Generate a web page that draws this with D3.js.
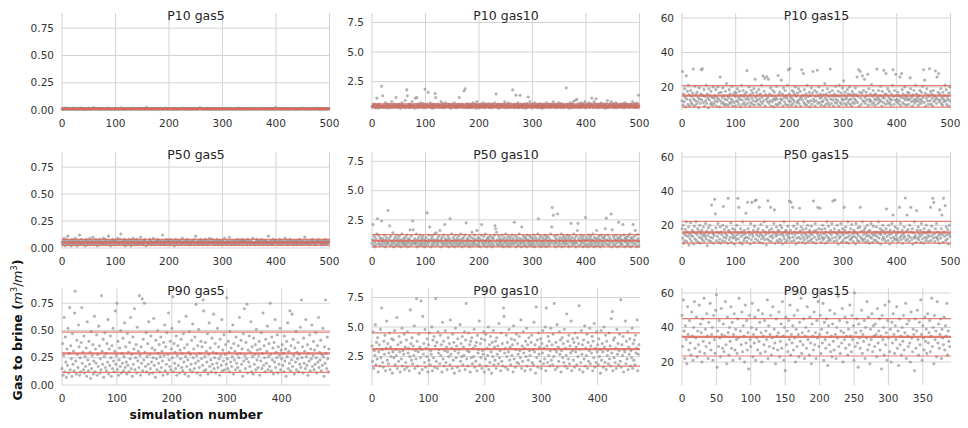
<!DOCTYPE html>
<html>
<head>
<meta charset="utf-8">
<script src="https://cdn.jsdelivr.net/npm/d3@7"></script>
<style>
  body { margin: 0; background: #fff; }
  svg { display: block; }
</style>
</head>
<body>
<script>
// Gas-to-brine ratio per simulation run, one array per panel (P-case x gas fraction)
const p10gas5 = [
.01,.008,.012,.006,.015,.01,.009,.011,.02,.007,.01,.013,.008,.016,.01,.012,.006,.009,.011,.014,
.009,.012,.018,.01,.007,.011,.013,.009,.006,.01,.015,.012,.008,.01,.011,.019,.009,.007,.012,.01,
.013,.008,.01,.011,.006,.009,.014,.012,.01,.008,.017,.011,.009,.012,.007,.01,.013,.009,.011,.022,
.01,.007,.012,.009,.014,.011,.008,.01,.016,.012,.006,.01,.013,.009,.011,.008,.015,.01,.012,.009,
.011,.014,.009,.007,.01,.012,.018,.01,.008,.013,.011,.009,.006,.012,.01,.014,.008,.011,.009,.013,
.008,.01,.012,.016,.009,.011,.007,.013,.01,.009,.012,.02,.01,.008,.011,.014,.009,.012,.007,.01,
.012,.009,.011,.013,.008,.01,.015,.012,.009,.006,.011,.01,.013,.017,.008,.012,.01,.009,.014,.011,
.009,.013,.01,.007,.012,.011,.009,.016,.01,.012,.008,.011,.014,.009,.01,.013,.007,.011,.024,.01,
.011,.008,.012,.01,.014,.009,.011,.013,.007,.01,.012,.009,.015,.011,.008,.01,.013,.012,.009,.011,
.013,.01,.008,.012,.011,.016,.009,.01,.012,.007,.014,.011,.009,.01,.018,.012,.008,.011,.01,.013,
.01,.012,.009,.014,.008,.011,.01,.013,.009,.012,.006,.01,.015,.011,.009,.012,.01,.008,.013,.011,
.008,.011,.013,.01,.012,.009,.017,.011,.008,.01,.012,.014,.009,.011,.01,.007,.012,.013,.009,.01,
.012,.009,.011,.008,.01,.013,.011,.015,.01,.009,.012,.008,.011,.014,.01,.012,.009,.011,.021,.01,
.011,.013,.009,.012,.01,.008,.014,.011,.009,.012,.01,.016,.008,.011,.013,.009,.01,.012,.011,.007,
.009,.01,.012,.011,.015,.009,.01,.013,.008,.011,.012,.01,.009,.014,.011,.008,.012,.01,.013,.009,
.012,.011,.008,.01,.013,.009,.012,.011,.016,.01,.008,.012,.014,.009,.011,.01,.013,.008,.012,.011,
.01,.014,.009,.011,.012,.008,.01,.013,.011,.009,.017,.012,.01,.008,.011,.013,.009,.012,.01,.011,
.013,.009,.012,.01,.008,.011,.014,.01,.012,.009,.011,.013,.008,.01,.012,.015,.011,.009,.01,.012,
.008,.012,.011,.013,.009,.01,.012,.008,.014,.011,.01,.009,.012,.016,.01,.011,.013,.009,.012,.01,
.011,.01,.013,.009,.012,.011,.008,.01,.013,.012,.009,.011,.01,.014,.008,.012,.011,.01,.009,.023,
.01,.012,.009,.011,.014,.01,.012,.009,.011,.008,.013,.01,.012,.011,.009,.015,.01,.012,.008,.011,
.012,.009,.011,.01,.013,.008,.011,.012,.01,.014,.009,.011,.013,.01,.012,.009,.011,.008,.013,.01,
.009,.011,.012,.008,.01,.013,.011,.009,.012,.016,.01,.011,.009,.012,.01,.013,.008,.011,.012,.01,
.011,.013,.01,.012,.009,.011,.008,.014,.01,.012,.011,.009,.013,.01,.011,.012,.009,.017,.01,.012,
.01,.009,.012,.011,.013,.01,.008,.012,.011,.009,.014,.01,.012,.011,.008,.013,.01,.012,.009,.011
];
const p50gas5 = [
.05,.03,.07,.04,.09,.06,.02,.05,.08,.04,.06,.11,.03,.05,.07,.04,.06,.02,.05,.08,
.04,.06,.03,.07,.05,.09,.04,.06,.02,.05,.07,.03,.06,.12,.04,.05,.08,.03,.06,.05,
.07,.04,.05,.02,.06,.08,.05,.03,.07,.04,.06,.05,.09,.03,.05,.07,.04,.06,.1,.05,
.03,.06,.05,.08,.04,.07,.02,.05,.06,.04,.08,.05,.03,.06,.07,.05,.04,.09,.03,.06,
.05,.08,.04,.06,.03,.05,.07,.11,.04,.06,.05,.02,.07,.05,.04,.08,.06,.03,.05,.07,
.06,.04,.07,.05,.09,.03,.06,.04,.05,.08,.13,.05,.03,.06,.07,.04,.05,.08,.02,.06,
.04,.07,.05,.03,.06,.05,.08,.04,.06,.02,.05,.07,.04,.09,.05,.06,.03,.07,.05,.04,
.08,.05,.03,.06,.04,.07,.05,.1,.04,.06,.05,.03,.07,.04,.06,.08,.05,.02,.06,.05,
.05,.03,.06,.04,.08,.05,.07,.03,.06,.05,.04,.09,.05,.06,.03,.07,.04,.05,.06,.08,
.04,.06,.05,.07,.03,.05,.06,.04,.12,.05,.07,.03,.06,.04,.05,.08,.06,.03,.05,.07,
.06,.04,.08,.05,.03,.06,.05,.07,.04,.06,.02,.05,.08,.04,.06,.05,.07,.03,.05,.06,
.05,.07,.03,.06,.04,.09,.05,.04,.06,.07,.05,.03,.06,.05,.08,.04,.06,.05,.03,.07,
.03,.05,.06,.04,.07,.05,.06,.08,.03,.05,.11,.04,.06,.05,.07,.03,.05,.06,.04,.08,
.06,.04,.05,.07,.03,.06,.05,.04,.08,.06,.05,.03,.07,.04,.06,.05,.09,.04,.06,.05,
.05,.08,.04,.06,.05,.03,.07,.05,.04,.06,.08,.05,.03,.06,.04,.07,.05,.06,.03,.05,
.07,.04,.06,.05,.09,.04,.05,.06,.03,.07,.05,.04,.06,.1,.05,.03,.06,.04,.07,.05,
.04,.06,.05,.03,.07,.05,.06,.04,.08,.05,.03,.06,.05,.07,.04,.06,.05,.08,.03,.06,
.06,.05,.07,.04,.05,.06,.03,.08,.05,.04,.06,.05,.07,.03,.05,.06,.04,.09,.05,.04,
.05,.03,.06,.05,.08,.04,.06,.05,.07,.03,.06,.04,.05,.08,.06,.05,.03,.07,.05,.06,
.04,.07,.05,.06,.03,.05,.11,.04,.06,.05,.07,.04,.06,.03,.05,.08,.04,.06,.05,.07,
.06,.05,.04,.07,.05,.03,.06,.08,.04,.05,.06,.03,.07,.05,.04,.06,.05,.09,.04,.06,
.05,.07,.03,.06,.04,.05,.08,.05,.06,.04,.07,.05,.03,.06,.05,.04,.07,.06,.05,.03,
.07,.04,.06,.05,.08,.04,.05,.06,.03,.07,.05,.06,.04,.05,.1,.06,.04,.05,.07,.05,
.04,.06,.05,.03,.07,.05,.04,.06,.08,.05,.06,.04,.05,.07,.03,.06,.05,.04,.06,.08,
.06,.05,.07,.04,.05,.06,.03,.05,.07,.04,.06,.05,.08,.04,.05,.06,.04,.07,.05,.06
];
const p90gas5 = [
.15,.38,.09,.27,.62,.12,.44,.21,.07,.33,.18,.52,.11,.29,.71,.14,.36,.24,.08,.47,
.19,.31,.13,.66,.86,.22,.10,.41,.28,.16,.55,.35,.09,.25,.12,.39,.71,.20,.30,.14,
.45,.11,.26,.17,.34,.08,.58,.23,.13,.40,.19,.30,.06,.49,.15,.27,.37,.10,.22,.63,
.12,.33,.20,.46,.09,.28,.17,.54,.36,.11,.24,.14,.82,.31,.19,.42,.07,.26,.48,.16,
.29,.13,.38,.21,.60,.10,.33,.18,.45,.25,.08,.36,.15,.52,.22,.12,.31,.68,.19,.27,
.75,.14,.40,.09,.23,.34,.17,.50,.11,.29,.20,.43,.13,.26,.57,.16,.35,.21,.10,.47,
.18,.30,.12,.39,.24,.62,.15,.28,.08,.44,.19,.33,.70,.14,.25,.37,.11,.53,.22,.31,
.16,.82,.27,.09,.35,.20,.79,.13,.42,.23,.75,.30,.17,.48,.12,.26,.38,.19,.58,.10,
.28,.15,.45,.21,.34,.11,.25,.61,.18,.32,.07,.41,.24,.14,.50,.29,.20,.37,.12,.26,
.44,.16,.31,.22,.09,.39,.27,.55,.13,.35,.19,.48,.10,.28,.66,.23,.17,.40,.14,.33,
.52,.25,.81,.12,.38,.20,.30,.15,.45,.09,.27,.36,.18,.58,.11,.32,.24,.42,.16,.29,
.13,.47,.21,.34,.10,.26,.63,.17,.37,.23,.08,.30,.49,.14,.28,.19,.41,.12,.56,.25,
.33,.15,.44,.20,.74,.27,.11,.36,.22,.51,.16,.29,.09,.40,.24,.35,.18,.78,.68,.13,
.26,.39,.14,.31,.21,.47,.10,.28,.57,.17,.34,.23,.12,.43,.19,.30,.65,.15,.25,.38,
.11,.29,.20,.52,.16,.35,.24,.09,.42,.27,.18,.60,.13,.32,.22,.46,.14,.28,.37,.19,
.80,.24,.15,.40,.30,.12,.49,.21,.34,.17,.26,.55,.10,.38,.23,.31,.14,.44,.20,.28,
.16,.36,.25,.62,.13,.29,.41,.19,.33,.08,.47,.22,.70,.27,.15,.39,.24,.74,.11,.32,
.21,.45,.17,.30,.58,.12,.35,.26,.10,.43,.19,.28,.37,.14,.51,.23,.32,.16,.27,.40,
.09,.33,.22,.48,.15,.29,.66,.18,.36,.25,.12,.42,.20,.31,.54,.14,.26,.38,.17,.75,
.28,.13,.44,.23,.34,.10,.39,.21,.60,.16,.30,.25,.46,.11,.35,.19,.27,.52,.14,.32,
.24,.37,.18,.29,.12,.45,.22,.33,.08,.40,.26,.57,.15,.31,.20,.68,.13,.36,.23,.65,
.17,.42,.27,.10,.34,.21,.49,.14,.30,.24,.39,.12,.28,.19,.53,.16,.78,.25,.35,.11,
.43,.20,.31,.15,.60,.26,.18,.37,.09,.29,.22,.46,.13,.33,.24,.55,.17,.27,.40,.14,
.32,.19,.48,.25,.11,.36,.21,.62,.16,.30,.23,.41,.13,.28,.18,.52,.26,.08,.35,.20,
.78,.29,.15,.44,.24,.12,.33
];
const p10gas10 = [
.4,.35,.5,.45,.6,.3,.4,.55,.3,1.1,.45,.5,.25,.6,.4,.35,.5,.4,2.1,.3,
1.3,.45,.5,.3,.4,.7,.35,.5,.4,.25,.6,.45,.5,.3,.4,.55,.3,.8,.4,.5,
.3,.45,.6,.35,.5,1.15,.4,.3,.55,.4,.6,.3,.45,.5,.25,.4,.7,.5,.35,.4,
.5,.3,.9,.45,.3,1.8,1.3,.4,.55,.3,.6,.45,.3,.5,.4,.8,.35,.5,.4,.25,
.4,1.1,.55,.3,1.15,.45,.6,.3,.5,.4,.35,.7,.4,.55,.3,.4,.65,.3,.5,1.85,
.45,.3,.5,.6,.4,1.6,.35,.5,.4,.7,.3,.45,.5,.25,.6,.4,.3,.55,1.5,1.15,
.3,.55,.4,.6,.35,.4,.5,.3,.45,.8,.5,.3,.4,.65,.3,.5,.45,.3,.7,.4,
.5,.35,.4,.6,.45,.3,.55,.4,.25,.6,.4,.5,.35,.4,.7,.3,.5,.45,.3,.55,
.4,.3,.6,1.15,.45,.5,.35,.4,.6,.3,.5,.45,1.7,.3,1.9,.55,.4,.3,.65,.4,
.3,.5,.45,.3,.6,.4,.55,.3,.4,.7,.35,.5,.4,.6,.25,.45,.8,.5,.3,.4,
.5,.45,.3,.6,.4,.35,.5,.4,.7,.3,.45,.55,.3,.6,.4,.5,.35,.4,.65,.3,
.4,.55,.3,.45,.6,.3,.5,.4,.35,.7,.4,.5,1.45,.3,.45,.6,.5,.25,.4,.55,
.3,.45,.6,.5,.35,.4,.55,.3,.8,.4,.6,.3,.5,.45,.3,.7,.4,.55,.3,.4,
.6,.35,.4,1.8,.5,.3,.45,.6,.3,1.35,.4,.55,.3,.7,.45,.3,.5,1.35,.4,.6,
.3,.5,.45,.3,.6,.4,.55,.25,.4,.65,.3,.5,1.2,.4,.35,.8,.5,.45,.3,.6,
.4,.3,.55,.4,.7,.35,.4,.5,.3,.6,.45,.3,.5,.4,.65,.3,.55,.4,.25,.5,
.3,.6,.45,.5,.3,.4,.7,.35,.5,.4,.6,.3,.45,.55,.3,.4,.6,.5,.35,.8,
.4,.55,.3,.45,.6,.3,.5,.4,.35,.7,.4,.5,.3,.65,.4,.3,.55,.45,.6,.3,
.5,.4,.35,1.97,.45,.6,.3,.5,.4,.25,.7,.55,.4,.3,.6,.45,.8,.3,.5,.4,
.9,.45,.3,1.0,.5,.4,.65,.3,.4,.55,.3,.7,.45,.5,.35,.6,.4,.3,.8,.5,
.3,.45,.6,.5,.35,.4,.7,.3,.55,.4,.6,1.1,.45,.3,.5,.8,.4,.65,.3,1.05,
.4,.55,.3,.6,.45,.3,.5,.4,.7,.35,.4,.55,.3,.6,.45,.5,.25,.4,.65,.3,
.9,.4,.55,.3,.45,.6,.35,.8,.5,.4,.3,.65,.4,.5,.3,.45,.7,.3,.55,.4,
.3,.5,.45,.6,.35,.4,.55,.3,.4,.65,.5,.3,.45,.7,.3,.5,.4,.6,.35,.4,
.5,.3,.45,.6,.4,.35,.5,.8,.4,.3,.65,.4,.55,.3,.45,.7,.3,.5,1.35,.4
];
const p50gas10 = [
.5,.8,2.1,.3,1.1,.6,.2,.9,.4,1.3,2.6,.7,1.2,.5,.3,1,.8,.4,2.4,.6,
.9,.3,.7,1.2,.5,.2,.8,1,.4,.6,3.3,.5,.9,2.0,.3,1.1,.7,.4,.6,1.4,
.2,.8,.5,1,.3,.7,1.2,.4,.9,.6,.3,1.1,.5,.8,.2,.7,1.3,.4,.6,.9,
.5,.3,1,.7,.4,1.2,.6,.2,.9,.5,.8,1.65,.3,1.1,.6,.4,2.4,1.65,.7,.5,
.9,.4,.6,1.3,.2,.8,.5,1,.3,.7,1.2,.4,.6,.9,.3,1.1,.5,.8,.2,.7,
.4,1,.6,3.1,.3,.8,.5,1.2,1.9,.7,.2,.9,.4,1.1,.6,.3,.8,1.3,.5,.7,
1.4,.3,.9,.6,.4,1.1,.7,1.6,.2,.8,.5,1,.3,.6,1.2,.4,2.1,.9,.5,.7,
.3,.8,1.1,.5,.2,.9,2.6,.6,.4,1.3,.7,.3,1,.5,.8,.2,1.2,.6,.4,.9,
.7,.3,1.1,.5,.8,.4,1.3,.6,.2,.9,.5,1,.3,.7,1.2,.4,2.25,.6,.9,.3,
.8,.5,1.1,.2,.7,.4,1,1.45,.6,.3,.9,.5,1.2,.7,.4,.8,1.6,.3,1,.6,
.4,.9,.2,.7,1.2,2.1,.5,.8,.3,1.1,.6,.4,1.3,.7,.2,.9,.5,1,.3,.8,
.6,1.1,.4,.7,.2,1,.5,.9,.3,1.2,2.0,1.75,.6,1.45,.4,.8,.3,1.1,.5,.7,
.9,.3,.6,1.2,.4,.8,.2,1,.5,.7,1.3,.3,.9,.6,.4,1.1,.2,.8,.5,1,
.3,.7,1.2,.5,.9,.4,2.3,.6,1.1,.2,.8,.5,1,.3,.7,1.3,.4,.9,.6,.2,
1.9,.5,.8,1.1,.3,.6,1,.4,.9,.2,1.2,.7,.5,.8,.3,1.1,.6,.4,1,.7,
.3,.9,.5,1.2,.2,.7,1,.4,.8,.6,1.3,2.6,.3,.9,.5,1.1,.2,.7,.4,1,
.6,.8,.3,1.2,.5,.9,.2,1.1,.7,.4,1,.6,.3,.8,1.3,.5,1.9,3.55,.7,2.9,
.4,1.1,.6,.2,.9,.5,1.2,3.0,.3,.8,.6,1,.4,.7,1.3,.2,.9,.5,1.1,.6,
.3,.8,1,.5,.7,1.2,.4,.9,.2,1.1,.6,.8,2.2,.3,1,.5,.7,1.3,.4,.9,
.6,.2,1.1,.5,1.6,2.2,.8,.3,1,.7,.4,1.2,.6,.9,.2,1.1,.5,.8,.3,2.7,
.7,1,.4,.8,.2,1.2,.5,.9,.3,1.1,.6,.8,.4,1.3,.7,.2,1,.5,.9,.3,
1.6,.6,.9,.3,1.1,.5,.8,.2,1.2,.7,.4,1,.6,.3,.9,1.1,1.75,.5,2.65,.8,
.4,1.2,.7,.3,1,.5,.8,3.0,.2,1.65,.6,1.1,.4,.9,.3,.7,1.2,.5,.8,.2,
1,2.3,.6,.9,.3,1.1,.5,.8,.4,2.1,.7,1.2,.2,.9,.6,1,.3,.8,.5,1.1,
.4,.7,1.3,.2,.9,.6,1,.3,2.1,.8,.5,1.1,1.6,.4,.7,.2,1.25,.9,.6,.3
];
const p90gas10 = [
3.4,2.1,4.6,1.5,3.0,2.6,5.2,1.8,3.7,2.3,4.1,1.2,2.9,3.5,1.7,4.8,2.4,6.6,3.1,2.0,
1.6,3.8,2.7,4.3,1.3,3.2,5.5,2.2,3.6,1.9,2.8,4.5,1.4,3.3,2.5,4.0,1.1,2.9,3.9,2.4,
4.7,1.8,3.1,2.6,5.8,1.5,3.5,2.1,4.2,2.9,1.2,3.7,2.3,4.9,1.7,3.0,2.7,4.4,1.4,3.3,
2.0,3.9,1.6,4.6,2.8,3.2,1.3,2.5,6.45,3.6,2.2,4.1,1.9,3.4,2.6,5.1,1.5,3.0,2.3,7.4,
3.8,1.7,2.9,4.4,1.1,3.3,2.4,7.2,3.1,1.4,5.9,2.7,3.6,2.0,4.8,1.6,3.2,2.5,4.0,1.2,
3.5,2.2,4.5,1.8,3.0,2.7,5.0,1.3,3.9,2.4,4.2,1.6,3.4,7.4,2.1,3.7,1.5,4.6,2.8,3.1,
1.9,4.3,2.6,3.5,1.2,5.4,2.3,3.8,1.7,3.0,4.7,2.0,3.3,1.4,2.9,4.1,2.5,3.6,1.8,5.6,
2.7,3.2,1.5,4.4,2.2,3.7,1.1,3.0,4.9,2.4,3.4,1.6,4.0,2.8,3.1,1.3,5.2,2.1,3.6,2.5,
4.2,1.8,3.3,2.6,4.6,1.4,3.9,7.0,2.3,3.0,1.7,4.5,2.9,3.5,1.2,3.8,2.4,4.1,1.9,3.2,
2.5,4.8,1.6,3.4,2.1,3.7,1.3,4.3,2.8,3.1,5.5,1.8,3.6,2.4,4.0,1.5,3.0,2.7,4.6,1.2,
3.9,2.3,4.4,1.7,3.2,2.6,5.0,1.4,3.5,2.0,4.2,2.9,1.1,3.7,2.5,4.7,1.8,3.3,2.2,3.8,
1.5,4.1,2.7,3.4,1.9,5.3,2.4,3.0,1.3,4.5,2.1,3.6,1.7,6.6,5.9,2.8,3.2,1.6,4.3,2.5,
3.7,1.4,2.9,4.8,2.2,3.3,1.8,4.0,2.6,3.5,1.2,5.1,2.3,3.9,1.6,3.1,4.4,2.0,3.6,2.7,
1.9,4.2,3.0,2.4,5.6,1.5,3.4,2.1,4.6,2.8,3.2,1.3,3.8,2.5,4.9,1.7,3.5,2.2,4.1,3.0,
2.6,1.4,3.7,4.3,2.0,3.1,1.8,5.4,2.9,3.5,1.1,6.7,2.4,3.9,1.6,4.5,2.7,3.3,2.1,4.0,
1.5,3.6,2.8,4.7,1.9,3.2,2.3,5.0,1.3,6.6,3.4,2.0,4.2,2.6,3.8,1.7,3.0,4.9,2.2,3.5,
1.8,4.4,2.5,7.0,3.1,1.4,3.7,2.9,5.2,1.6,3.3,2.1,4.6,2.7,3.9,1.2,3.0,4.1,2.4,3.6,
2.0,4.8,1.7,3.2,2.6,6.1,1.5,3.8,2.3,4.3,1.9,3.4,2.8,5.5,1.3,3.0,4.0,2.2,3.7,1.6,
4.5,2.9,3.3,1.8,4.1,2.5,3.6,6.8,1.4,3.1,2.0,4.7,2.7,3.5,1.2,3.9,2.3,5.1,1.7,3.2,
2.6,4.4,1.5,3.7,2.1,3.0,4.9,1.9,3.4,2.8,4.2,1.3,3.8,2.4,5.3,1.6,3.2,2.0,4.6,2.9,
3.5,1.8,4.0,2.5,3.1,1.1,4.7,2.2,3.6,2.9,1.6,5.0,3.3,2.0,4.3,1.4,3.8,2.6,3.0,1.9,
4.5,2.3,3.4,1.7,5.7,2.8,6.3,1.3,3.9,2.4,4.1,2.0,3.2,1.5,4.8,2.7,3.6,1.8,3.0,4.4,
2.1,7.3,1.6,3.5,2.6,4.2,1.2,3.1,2.9,5.5,1.9,3.8,2.3,4.6,1.4,3.3,2.7,4.0,1.7,3.0,
2.4,4.9,1.5,3.6,2.2,3.9,1.8,4.3,2.8,3.2,5.6,1.3,2.7,3.5
];
const p10gas15 = [
12,29,9.5,16,11.5,19,14,8.5,26.5,13,17.5,10,21,15.5,9,12.5,18,11,14.5,10,
16.5,30.4,13,9,20.5,12,15.5,10,17,11.5,14,8,19.5,13,10.5,16,30,12.5,30.6,15,
11,18.5,9,14.5,12,21,10.5,16,13.5,8,19,12.5,15,10,17.5,11,14,9.5,20,13.5,
10.5,15,12,18.5,9,14,11.5,20,13,16.5,8.5,25.8,12,17,10.5,14,19.5,11,15,9.5,
13,17.5,10,22,12.5,15,9.5,14,18.5,11,16,10.5,13,20.5,12,9,15.5,11,17,14.5,
9,16.5,12,19,11.5,14,10,17.5,13,8.5,15,21,12.5,10,18,14.5,11,16,9.5,13,
17,29.5,10.5,14,12.5,20,9,15.5,11,18,13.5,10,16.5,12,19,9.5,24.5,14,11.5,17,
12.5,15,10,18.5,13,9.5,16,11.5,21,14,10.5,26.5,12,17.5,25,9,15.5,13,26,11.5,
14,24.5,10.5,16,12,19.5,9,15,11.5,18,13,8.5,17,12.5,14,10,20.5,13,9.5,26.7,
15.5,11,17,10.5,13,24,12.5,16,9,19.5,14,11.5,18,10,15,13.5,21,9.5,30,12,
16,30.6,11.5,14,9.5,18,13,10.5,17,12,15.5,20,9,14.5,11,16.5,12,19,10.5,13,
17.5,9,14,30,12.5,15,27.8,11,18.5,10,13.5,16,9.5,21,12,14.5,11,17,8.5,15,
12,19.5,10,16.5,29,13,11.5,18,9,14.5,12,17,29.7,10.5,15,20,11,13.5,16,9.5,
14,11.5,18,12,15.5,9,22,13.5,10,16,12.5,19,11,14.5,9.5,17,30.4,13,10.5,15,
18,12.5,9,14.5,16,11,20.5,13,10.5,15,12,17.5,9,21,14.5,11,16.5,10,13,19.5,
12.5,23.6,15,10.5,17,13,9.5,14,18.5,11,16,12.5,20,10,15.5,13,9,17.5,11,14.5,
16,10.5,13,19.5,12,15.5,25.8,11,14.5,30,9,17,29,13.5,10,16.5,26.5,12,18,11.5,
24.5,14,10.5,17,12.5,15,27.4,9.5,19,13,11.5,16,12,21.5,10,14.5,18,11,15.5,13,
9.5,16,12.5,30.4,14,10.5,18,13,11.5,15,20.5,12,9,17.5,14,11,29.7,13.5,16,10,
27.8,15.5,12,19,10.5,14,17.5,11,13,9.5,16,12.5,21,30,14.5,10,18,12.5,27.4,15,
11.5,13,17,10.5,15,12,25.8,9.5,14,27.8,18.5,11,16,13.5,10,20,12.5,15,9.5,14,
17,12.5,10,16.5,13,25.3,19,11.5,14,9,15.5,12,18,10.5,13,21,11.5,16,12.5,14,
9.5,15,11.5,18,13,10.5,17,12,20.5,14,30,11,24,16.5,9,13.5,19,12,15.5,10,
14.5,30.6,12,17.5,10,16,13.5,9,18,11.5,15,12.5,29.3,14,10.5,25.8,13,17,27.8,11.5,
16,12.5,19,10.5,14,9.5,17,13,11.5,15,21,12,18.5,10,14.5,13,9,16.5,12,20
];
const p50gas15 = [
18,12.5,20,9.5,15,11,17.5,14,22,10.5,16,13.5,19,8.5,15,12,21.5,14,10.5,17,
13.5,16,9,19.5,12,15.5,22,11,14.5,18,10,16.5,13,20,9.5,15,12.5,17,11.5,14,
19,10.5,15,13.5,21,12,16.5,8,14,18.5,11,15.5,20,13,10.5,31.8,17,12.5,15,9.5,
14,35.2,26.7,18.5,11,16,13.5,21,10,15.5,12,19,9.5,16,14.5,11,20,31,13,17.5,
10.5,15,12.5,19,14,9.5,35.8,17,11.5,16,13,21.5,10,15,18,12.5,14,9,17.5,13,
16,11.5,20,14.5,35.8,12,30.5,15.5,10,18,13.5,16,9,22,14.5,11,17,12.5,15,27,
13,10.5,33.5,18,12.5,16,14.5,9,21,11.5,33.4,15,13.5,17,10,19.5,34.3,12,34.8,14.5,
16.5,11,18,13.5,30.5,10,15,20.5,12,14,9.5,17,13,22,11.5,16,14.5,8.5,19,12,
34.3,15.5,11,17,13.5,30.5,10.5,18,14,12.5,16,21,29,9.5,15,13.5,19,11,14.5,17,
10,16.5,12,20,14.5,11,18.5,9,15,13.5,22,12,16.5,10,17,14.5,11,19.5,13,15,
34.2,12.5,17,33.5,10.5,15,30.5,13,19.5,11,16,14.5,9,18,12.5,21,15.5,10,13,30,
16.5,12,19,14.5,10,17.5,13,22,11.5,15,9.5,18,14,12.5,20,10.5,16,13.5,17,11,
15,19.5,12,14.5,10,34.2,16.5,13,21,9.5,17,11.5,15,30.5,13.5,18,12,30,14.5,10,
17.5,13,20,11.5,15,12.5,18,9.5,16,14,22,10.5,13,19.5,12,15.5,11,17,14.5,21,
12.5,34.2,16,10.5,18,34.8,13,15.5,11,20,14.5,9,17,12.5,16,13.5,21,10,15.5,18,
11,14.5,30.5,17,12.5,19,10,15.5,13,22,9.5,16,14,11.5,18,12,20.5,13,15,10.5,
17,13.5,16,9,21,12.5,15,11,18.5,14,10.5,19,30.5,13,16.5,12,22,11,14.5,17,
12,18.5,10,15,13.5,20,11,16.5,14,9.5,17,13,21,12.5,15,10,19.5,14,11.5,16,
14.5,11,19,13.5,16,10,22,12.5,15,18,9,14.5,17,11.5,20,13,16.5,12,15,10.5,
18,29.5,13.5,16,11,20,14.5,9,17,12.5,15,21,10.5,26,13,16.5,12,19,11.5,14,
15.5,12,18,10.5,16,30.5,13,21,11.5,14,17,9.5,15,12.5,19,13.5,36,11,16.5,26,
12,17.5,14,10.5,20,13,30.5,16,11.5,18,9,15.5,13,22,12.5,14,10,28.6,17,12.5,
19,11.5,15,13.5,17,10,21,14.5,12,16,9.5,18,13,15.5,11,20,12.5,16,14,10.5,
17,13.5,16,30.5,11,19.5,14,35.8,12.5,33.4,15,10.5,18,13,21,12.5,16,11.5,14,9.5,
29,15,12.5,18,26,14.5,10,35.8,16,13.5,31.5,11,19,14.5,12,17.5,9,15,20,13.5
];
const p90gas15 = [
47,29,56,38,22,41,33,19,52,36,27,44,31,24,49,35,21,40,55,28,
34,46,23,38,30,53,26,42,37,20,45,32,57,25,39,29,48,35,22,43,
31,54,27,36,40,21,47,33,25,50,59,17,38,29,44,34,23,51,36,28,
42,26,35,55,30,19,46,37,24,40,32,52,28,43,21,36,48,27,39,33,
25,45,34,57,22,38,30,49,26,41,35,20,53,31,44,27,37,16,47,33,
29,40,54,23,36,31,46,21,39,34,27,50,32,43,25,37,20,48,35,30,
44,26,38,33,56,22,41,29,36,47,24,34,52,28,39,31,19,45,35,27,
37,49,23,32,42,28,55,35,21,40,15,46,30,38,26,44,33,53,24,36,
31,41,27,47,34,20,39,29,50,36,23,43,32,57,25,37,30,45,22,35,
40,28,52,33,38,24,46,31,19,42,35,27,49,30,37,22,44,34,55,29,
36,47,25,39,31,54,21,43,33,28,45,37,18,41,30,50,26,35,23,42,
32,27,48,36,22,40,34,58,29,44,25,38,31,51,20,37,33,46,28,35,
43,24,39,30,53,35,26,47,33,41,21,60,29,37,45,31,17,42,34,28,
38,50,25,36,32,44,22,40,34,55,27,46,30,19,39,33,48,26,41,35,
29,42,36,23,51,31,38,45,27,35,16,47,33,40,24,53,30,37,21,44,
34,55,26,39,20,43,31,48,36,25,41,33,52,28,38,18,45,30,35,24,
40,32,47,27,37,54,22,42,35,29,44,31,20,49,34,26,39,36,15,45,
28,38,50,33,24,43,30,56,36,21,41,34,27,46,32,39,25,48,31,37,
44,26,35,57,29,40,19,47,33,38,23,55,31,42,28,36,45,22,39,34,
30,46,27,41,35,54,24,38,32,29
];

// Reference levels drawn across each panel: lower, central, upper
const p10gas5Levels = [.007, .011, .015];
const p50gas5Levels = [.025, .052, .08];
const p90gas5Levels = [.115, .29, .485];
const p10gas10Levels = [.3, .46, .62];
const p50gas10Levels = [.2, .72, 1.24];
const p90gas10Levels = [1.7, 3.14, 4.5];
const p10gas15Levels = [8.4, 15, 20.8];
const p50gas15Levels = [9.5, 15.8, 22.3];
const p90gas15Levels = [23.5, 34.6, 45.2];

// Axis ticks
const gas5Ticks = [0, 0.25, 0.5, 0.75];
const gas10Ticks = [2.5, 5, 7.5];
const gas15Ticks = [20, 40, 60];
const runTicks = [0, 100, 200, 300, 400, 500];
const runTicksFine = [0, 50, 100, 150, 200, 250, 300, 350];

const cases = ["P10", "P50", "P90"];
const gases = ["gas5", "gas10", "gas15"];

// Shared y range for each gas column
const columnY = [
  { domain: [0, 0.89], ticks: gas5Ticks, fmt: d3.format(".2f") },
  { domain: [0.1, 8.3], ticks: gas10Ticks, fmt: d3.format(".1f") },
  { domain: [6.7, 62.9], ticks: gas15Ticks, fmt: d3.format("d") }
];

const panelData = [
  [p10gas5, p10gas10, p10gas15],
  [p50gas5, p50gas10, p50gas15],
  [p90gas5, p90gas10, p90gas15]
];
const panelLevels = [
  [p10gas5Levels, p10gas10Levels, p10gas15Levels],
  [p50gas5Levels, p50gas10Levels, p50gas15Levels],
  [p90gas5Levels, p90gas10Levels, p90gas15Levels]
];

const W = 968, H = 428;
const colX = [[62, 330], [372, 640], [682, 951]];
const rowY = [[13, 110], [152, 248], [288, 385]];
const FONT = "'DejaVu Sans', sans-serif";

const svg = d3.select("body").append("svg")
  .attr("width", W).attr("height", H)
  .style("font-family", FONT);

cases.forEach((pc, r) => {
  gases.forEach((gas, c) => {
    const values = panelData[r][c];
    const levels = panelLevels[r][c];
    const [x0, x1] = colX[c];
    const [y0, y1] = rowY[r];
    const cy = columnY[c];

    const x = d3.scaleLinear().domain([0, values.length + 1]).range([x0, x1]);
    const y = d3.scaleLinear().domain(cy.domain).range([y1, y0]);
    const xt = (r === 2 && c === 2 ? runTicksFine : runTicks)
      .filter(t => t <= x.domain()[1]);

    const g = svg.append("g");

    // grid
    g.append("g").selectAll("line").data(xt).join("line")
      .attr("x1", d => x(d)).attr("x2", d => x(d))
      .attr("y1", y0).attr("y2", y1)
      .attr("stroke", "#d3d3d3").attr("stroke-width", 1);
    g.append("g").selectAll("line").data(cy.ticks).join("line")
      .attr("x1", x0).attr("x2", x1)
      .attr("y1", d => y(d)).attr("y2", d => y(d))
      .attr("stroke", "#d3d3d3").attr("stroke-width", 1);

    // tick labels
    g.append("g").selectAll("text").data(cy.ticks).join("text")
      .attr("x", x0 - 8).attr("y", d => y(d)).attr("dy", "0.35em")
      .attr("text-anchor", "end").attr("font-size", 10.5).attr("fill", "#333")
      .text(cy.fmt);
    g.append("g").selectAll("text").data(xt).join("text")
      .attr("x", d => x(d)).attr("y", y1 + 17)
      .attr("text-anchor", "middle").attr("font-size", 10.5).attr("fill", "#333")
      .text(d => d);

    // points
    g.append("g").selectAll("circle").data(values).join("circle")
      .attr("cx", (d, i) => x(i)).attr("cy", d => y(d))
      .attr("r", 1.3)
      .attr("fill", "#a0a0a0").attr("stroke", "#6c6c6c").attr("stroke-width", 0.3)
      .attr("opacity", 0.75);

    // reference levels
    g.append("g").selectAll("line").data(levels).join("line")
      .attr("x1", x0).attr("x2", x1)
      .attr("y1", d => y(d)).attr("y2", d => y(d))
      .attr("stroke", "#e0675a")
      .attr("stroke-width", (d, i) => i === 1 ? 2.2 : 1.2)
      .attr("opacity", 0.85);

    // title
    g.append("text")
      .attr("x", (x0 + x1) / 2).attr("y", y0 + 7)
      .attr("text-anchor", "middle").attr("font-size", 12.5).attr("fill", "#262626")
      .text(`${pc} ${gas}`);
  });
});

// axis labels
svg.append("text")
  .attr("x", (colX[0][0] + colX[0][1]) / 2).attr("y", 419)
  .attr("text-anchor", "middle").attr("font-size", 12.5).attr("font-weight", "bold")
  .attr("fill", "#111")
  .text("simulation number");

const yl = svg.append("text")
  .attr("transform", "translate(22,330) rotate(-90)")
  .attr("text-anchor", "middle").attr("font-size", 12.5).attr("font-weight", "bold")
  .attr("fill", "#111");
yl.append("tspan").text("Gas to brine (");
yl.append("tspan").attr("font-style", "italic").attr("font-weight", "normal").text("m");
yl.append("tspan").attr("font-size", 8).attr("font-weight", "normal").attr("dy", -5).text("3");
yl.append("tspan").attr("font-weight", "normal").attr("dy", 5).text("/");
yl.append("tspan").attr("font-style", "italic").attr("font-weight", "normal").text("m");
yl.append("tspan").attr("font-size", 8).attr("font-weight", "normal").attr("dy", -5).text("3");
yl.append("tspan").attr("dy", 5).text(")");
</script>
</body>
</html>
